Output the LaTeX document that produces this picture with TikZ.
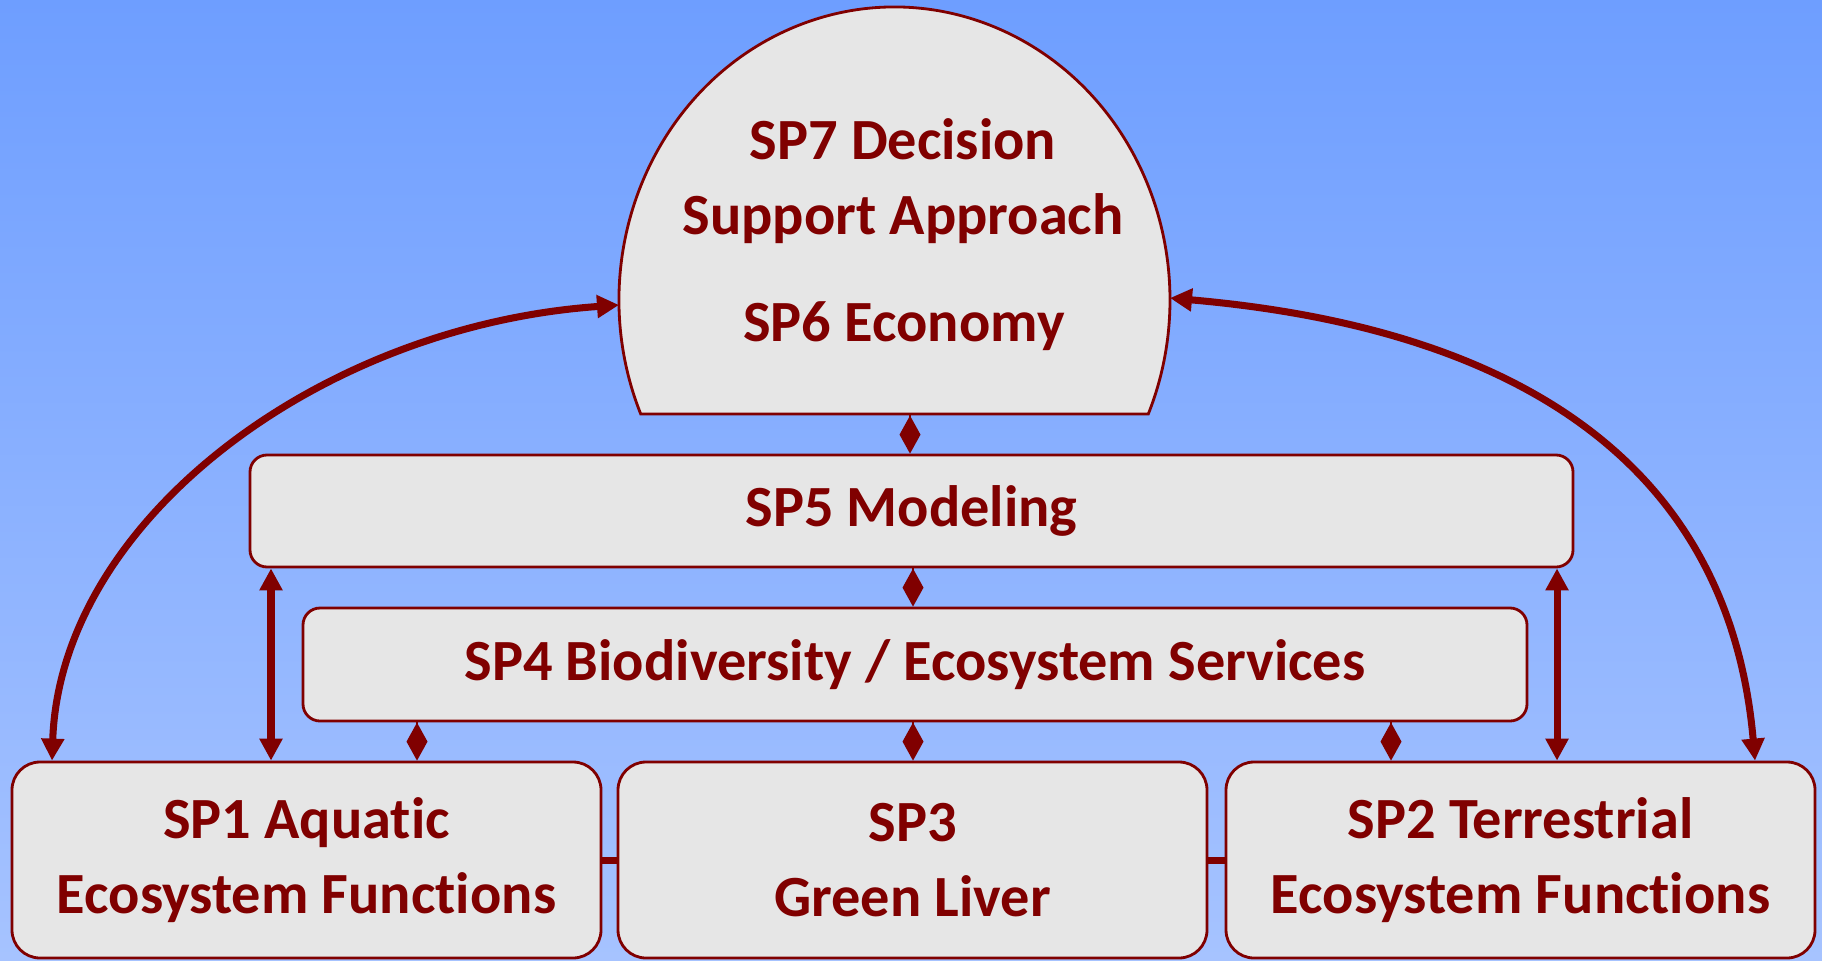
\documentclass[tikz,border=0pt]{standalone}
\usepackage{fontspec}
\setmainfont{Carlito}[Ligatures=NoCommon]
\usetikzlibrary{arrows.meta,calc,positioning}
\definecolor{spred}{RGB}{128,0,0}
\definecolor{spgray}{RGB}{230,230,230}
\definecolor{sptop}{RGB}{110,158,255}
\definecolor{spbot}{RGB}{166,195,255}

\begin{document}
\begin{tikzpicture}[
  font=\bfseries\fontsize{16.6}{21.5}\selectfont,
  spbox/.style={draw=spred,fill=spgray,line width=0.8pt,text=spred,rounded corners=1.7mm,inner sep=0pt,align=center},
  spbig/.style={spbox,rounded corners=2.8mm,minimum width=5.89cm,minimum height=1.96cm},
  twoway/.style={draw=spred,line width=2pt,{Triangle[length=2.2mm,width=2.2mm]}-{Triangle[length=2.2mm,width=2.2mm]}},
  diamondlink/.style={draw=spred,line width=0.6pt,-{Diamond[length=3.8mm,width=2.1mm]}},
  bridge/.style={draw=spred,line width=2pt}
]
\shade[top color=sptop,bottom color=spbot] (0,0) rectangle (18.22,9.60);
\useasboundingbox (0,0) rectangle (18.22,9.60);

% dome for SP7 / SP6
\draw[draw=spred,fill=spgray,line width=0.8pt] ($(8.945,6.60)+(202.9:2.755 and 2.93)$) arc[start angle=202.9,end angle=-22.9,x radius=2.755,y radius=2.93] -- cycle;
\node[text=spred,align=center] (sp7) at (9.03,7.79) {SP7 Decision\\Support Approach};
\node[text=spred] (sp6) at (9.04,6.34) {SP6 Economy};
\coordinate (domeL) at (6.19,6.55);
\coordinate (domeR) at (11.70,6.62);
\coordinate (domeB) at (9.10,5.46);

% boxes
\node[spbox,minimum width=13.23cm,minimum height=1.12cm] (sp5) at (9.115,4.49) {SP5 Modeling};
\node[spbox,minimum width=12.24cm,minimum height=1.13cm] (sp4) at (9.15,2.955) {SP4 Biodiversity / Ecosystem Services};
\node[spbig] (sp1) at (3.065,1.0) {SP1 Aquatic\\Ecosystem Functions};
\node[spbig] (sp3) at (9.125,1.0) {SP3\\Green Liver};
\node[spbig] (sp2) at (15.205,1.0) {SP2 Terrestrial\\Ecosystem Functions};

\coordinate (leftfoot) at (0.52,0);
\coordinate (rightfoot) at (17.55,0);
\coordinate (upL) at (2.71,0);
\coordinate (upR) at (15.57,0);
\coordinate (dia1) at (4.17,0);
\coordinate (dia2) at (9.13,0);
\coordinate (dia3) at (13.91,0);

% connectors
\draw[twoway] (sp1.north -| leftfoot) to[out=88,in=184,out distance=2.4cm,in distance=3.0cm] (domeL);
\draw[twoway] (domeR) to[out=-5,in=95,out distance=3.6cm,in distance=2.9cm] (sp2.north -| rightfoot);
\draw[twoway] (sp5.south -| upL) -- (sp1.north -| upL);
\draw[twoway] (sp5.south -| upR) -- (sp2.north -| upR);
\draw[diamondlink] (domeB) -- (sp5.north -| domeB);
\draw[diamondlink] (sp5.south -| dia2) -- (sp4.north -| dia2);
\draw[diamondlink] (sp4.south -| dia1) -- (sp1.north -| dia1);
\draw[diamondlink] (sp4.south -| dia2) -- (sp3.north -| dia2);
\draw[diamondlink] (sp4.south -| dia3) -- (sp2.north -| dia3);
\draw[bridge] (sp1.east) -- (sp3.west);
\draw[bridge] (sp3.east) -- (sp2.west);
\end{tikzpicture}
\end{document}
